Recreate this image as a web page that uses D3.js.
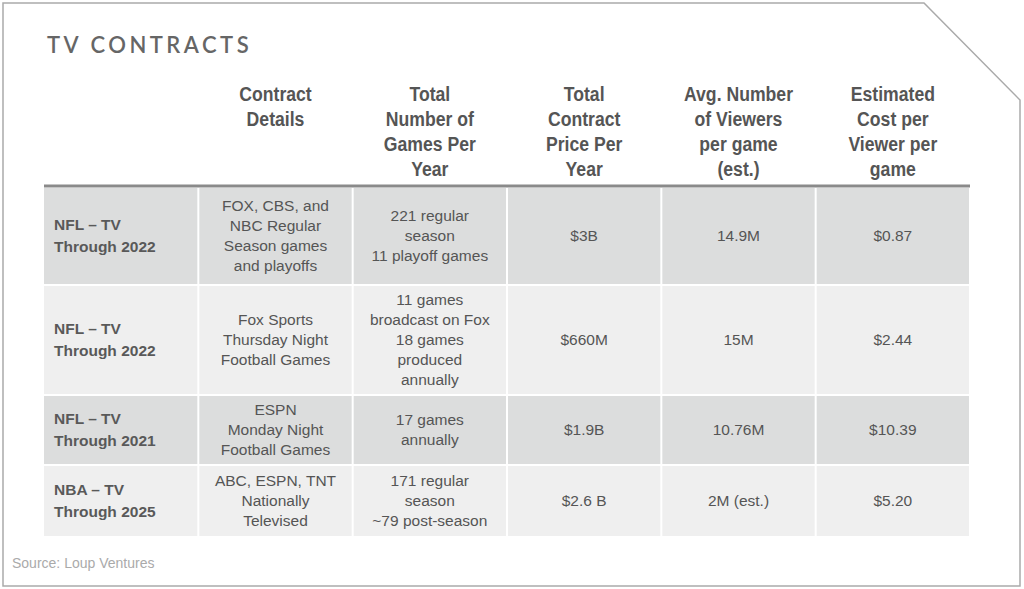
<!DOCTYPE html>
<html><head><meta charset="utf-8">
<script src="https://cdn.jsdelivr.net/npm/d3@7"></script>
<style>body{margin:0;background:#fff}</style>
</head><body><svg width="1024" height="589"></svg>
<script>
const headers = [[], ["Contract", "Details"], ["Total", "Number of", "Games Per", "Year"],
  ["Total", "Contract", "Price Per", "Year"], ["Avg. Number", "of Viewers", "per game", "(est.)"],
  ["Estimated", "Cost per", "Viewer per", "game"]];
const leagues = [["NFL – TV", "Through 2022"], ["NFL – TV", "Through 2022"], ["NFL – TV", "Through 2021"], ["NBA – TV", "Through 2025"]];
const details = [["FOX, CBS, and", "NBC Regular", "Season games", "and playoffs"],
  ["Fox Sports", "Thursday Night", "Football Games"],
  ["ESPN", "Monday Night", "Football Games"],
  ["ABC, ESPN, TNT", "Nationally", "Televised"]];
const games = [["221 regular", "season", "11 playoff games"],
  ["11 games", "broadcast on Fox", "18 games", "produced", "annually"],
  ["17 games", "annually"],
  ["171 regular", "season", "~79 post-season"]];
const prices = ["$3B", "$660M", "$1.9B", "$2.6 B"];
const viewers = ["14.9M", "15M", "10.76M", "2M (est.)"];
const costs = ["$0.87", "$2.44", "$10.39", "$5.20"];
const rowTops = [188, 286, 396, 466];
const rowBottoms = [284, 394, 464, 536];

const svg = d3.select("svg");
svg.append("path").attr("d", "M3,3H924L1020,100V586H3Z").attr("fill", "none").attr("stroke", "#aaa").attr("stroke-width", 1.5);
svg.append("text").attr("x", 47).attr("y", 53).text("TV CONTRACTS")
  .attr("font-family", "Lato").attr("font-size", 22).attr("font-weight", 600).attr("letter-spacing", 3.5).attr("fill", "#666");

const x = d3.scaleLinear().domain([0, 6]).range([44, 970]);
const colW = x(1) - x(0);

const rows = leagues.map((l, i) => [l, details[i], games[i], [prices[i]], [viewers[i]], [costs[i]]]);
const fills = ["#dcdddd", "#efefef", "#dcdddd", "#efefef"];

rows.forEach((cells, r) => {
  const y0 = rowTops[r], y1 = rowBottoms[r], mid = (y0 + y1) / 2;
  cells.forEach((lines, c) => {
    svg.append("rect").attr("x", x(c) + (c ? 1 : 0)).attr("y", y0).attr("width", colW - (c ? 2 : 1))
      .attr("height", y1 - y0).attr("fill", fills[r]);
    const t = svg.append("text").attr("font-family", "Liberation Sans").attr("font-size", 15.5)
      .attr("fill", c ? "#555" : "#595959").attr("font-weight", c ? "normal" : "bold")
      .attr("text-anchor", c ? "middle" : "start");
    const lh = c ? 20 : 22;
    lines.forEach((s, k) => {
      t.append("tspan").attr("x", c ? x(c) + colW / 2 : 54)
        .attr("y", mid + (k - (lines.length - 1) / 2) * lh + 5).text(s);
    });
  });
});

svg.append("line").attr("x1", 44).attr("x2", 970).attr("y1", 186).attr("y2", 186).attr("stroke", "#8a8a8a").attr("stroke-width", 3);

// condensed bold header: Liberation Sans squeezed horizontally
headers.forEach((lines, c) => {
  const cx = x(c) + colW / 2;
  const t = svg.append("text").attr("font-family", "Liberation Sans").attr("font-weight", "bold")
    .attr("font-size", 21).attr("fill", "#555").attr("text-anchor", "middle")
    .attr("transform", `translate(${cx},0) scale(0.84,1)`);
  lines.forEach((s, k) => t.append("tspan").attr("x", 0).attr("y", 101 + k * 25).text(s));
});

svg.append("text").attr("x", 12).attr("y", 568).text("Source: Loup Ventures")
  .attr("font-family", "Liberation Sans").attr("font-size", 14).attr("fill", "#aaa");
</script></body></html>
